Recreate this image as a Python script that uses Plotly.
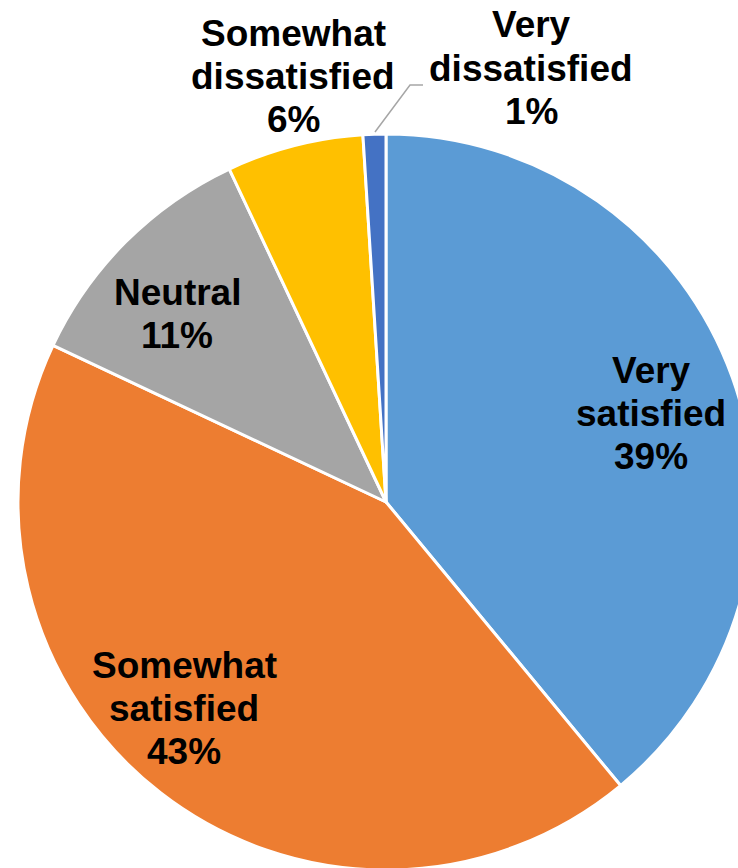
import plotly.graph_objects as go

# Survey responses, clockwise from 12 o'clock
categories = ["Very satisfied", "Somewhat satisfied", "Neutral",
              "Somewhat dissatisfied", "Very dissatisfied"]
shares = [39, 43, 11, 6, 1]
colors = ["#5B9BD5", "#ED7D31", "#A5A5A5", "#FFC000", "#4472C4"]

# Label block centres in page pixels (x, y of the first line)
label_pos = [(651, 370), (184, 665), (177, 292), (293, 34), (531, 25)]
line_gap = 43

# Pie geometry in pixels
CX, CY, R = 386, 502, 368
ML, MT = CX - R, CY - R
W, H = 760, 874
PW = PH = 2 * R


def px(x):
    return (x - ML) / PW


def py(y):
    return 1 - (y - MT) / PH


fig = go.Figure(go.Pie(
    labels=categories,
    values=shares,
    sort=False,
    direction="clockwise",
    rotation=0,
    marker=dict(colors=colors, line=dict(color="white", width=3)),
    textinfo="none",
    hoverinfo="label+percent",
    domain=dict(x=[0, 1], y=[0, 1]),
))

annotations = []
for name, val, (lx, ly) in zip(categories, shares, label_pos):
    lines = name.split(" ") + [f"{val}%"]
    for i, line in enumerate(lines):
        annotations.append(dict(
            x=px(lx), y=py(ly + i * line_gap), xref="paper", yref="paper",
            text=f"<b>{line}</b>", showarrow=False,
            xanchor="center", yanchor="middle",
            font=dict(family="Liberation Sans, Arial, sans-serif", size=37, color="#000000"),
        ))

# Leader line for the smallest slice
leader = f"M {px(375)},{py(132)} L {px(410)},{py(85)} L {px(423)},{py(85)}"

fig.update_layout(
    width=W, height=H,
    margin=dict(l=ML, t=MT, r=W - ML - PW, b=H - MT - PH, autoexpand=False),
    paper_bgcolor="white",
    plot_bgcolor="white",
    showlegend=False,
    annotations=annotations,
    shapes=[dict(type="path", path=leader, xref="paper", yref="paper",
                 line=dict(color="#A6A6A6", width=1.5))],
)

fig.write_html(
    "out.html",
    post_script="document.documentElement.style.overflow='hidden';document.body.style.overflow='hidden';",
)
